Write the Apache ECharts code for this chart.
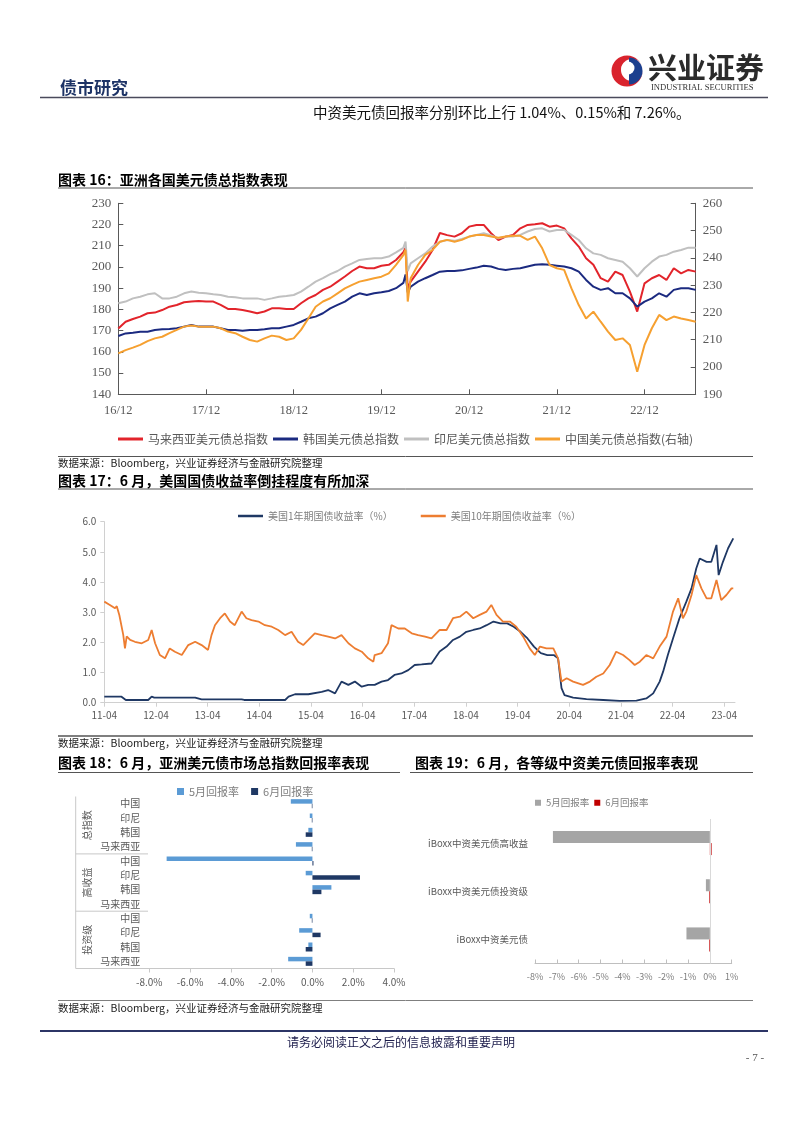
<!DOCTYPE html>
<html><head><meta charset="utf-8">
<script src="https://cdn.jsdelivr.net/npm/echarts@6/dist/echarts.min.js"></script>
<style>html,body{margin:0;padding:0;background:#fff}#c{width:802px;height:1133px}</style>
</head><body><div id="c"></div><script>
// ---------- Chart 16 data (monthly, months since 2016-12) ----------
const labels16 = ['16/12','17/12','18/12','19/12','20/12','21/12','22/12'];
const months16 = [];
for (let m = 0; m <= 38; m++) months16.push(m);
months16.push(39, 39.3, 39.6);
for (let m = 40; m <= 79; m++) months16.push(m);
const malaysia16 = [171,174.2,175.5,176.6,178.2,178.5,179.7,181.3,182.1,183.4,183.7,184,183.7,183.7,182.1,180.2,180.2,179.7,179,178.2,179,180.5,180.5,180.2,180.2,182.9,185.2,186.8,189.2,190.7,193.1,195.5,198.1,200.2,199.4,199.4,200.6,201,203.3,
  207,209,190,
  193.1,197.8,202.5,208,216,215,214.3,215.9,219,219.8,219.8,215.9,212.7,214.3,215.1,218.2,219.8,220.1,220.6,219,219.5,218.2,213.5,209.6,204.1,201,194.7,193.1,197.8,196.2,188.4,179,192.3,194.7,196.2,193.9,199.4,197,198.6,197.8];
const korea16 = [167.5,168.7,169,169.5,169.5,170.3,170.6,170.8,171.1,171.9,172.7,171.9,171.9,171.9,171.1,170.3,170.3,170,170.3,170.3,170.6,171.1,171.1,171.9,172.7,174.2,175.8,176.6,178.2,180.5,182.1,183.7,186,187.6,186.8,187.6,188.1,188.7,190,
  192.5,196.5,188,
  190.7,193.1,194.7,196.2,197.8,198.1,198.1,198.4,199.1,199.7,200.6,200.2,199.1,198.6,199.1,199.4,200.2,201,201.3,201,200.6,200.2,199.4,197.8,193.9,190.7,189.2,190,187.6,187.6,185.2,181.3,183.7,185.2,187.6,186,189.2,190,190,189.2];
const indonesia16 = [182.9,183.7,185.2,186,187.1,187.6,185.2,185.2,186,187.6,188.4,187.9,187.6,187.1,186.8,186,185.7,185.2,185.2,185.2,184.5,185.2,186,186.3,186.8,188.4,190.7,193.1,194.7,196.6,198.1,200.2,201.7,203.3,203.8,204.1,204.1,204.9,206.9,
  209,212,198,
  201.7,204.1,206.4,209.6,211.9,212.7,212.3,213.2,214.3,215.1,215.9,214.8,213.5,214.3,214.3,215.1,216.7,217.9,218.2,216.7,217.4,217.4,215.1,212.7,208.8,206.4,205.7,204.1,203.3,202.5,199.4,195.5,199.4,202.5,204.9,205.7,207.2,208,209.1,209.1];
const china16 = [205,206.2,207.1,208.1,209.5,210.5,211.1,212.4,213.6,214.8,215.2,214.8,214.8,214.8,214.2,213,212.4,211.1,209.9,209.3,210.5,211.5,211.1,209.9,210.5,213.6,217.8,222.1,224,225.2,227,228.8,230.1,231.3,231.9,232.5,233.1,234.3,237.4,
  241,243,224,
  232.5,237.4,241.1,242.9,245.9,246.6,245.9,246.6,247.8,248.4,248.4,247.8,247.4,247.8,248.1,248.1,246.6,247.8,243.5,237.4,236.2,235.6,228.8,222.7,217.8,220.3,216.6,213,209.9,210.5,208.1,198.3,208.1,214.2,219.1,217.2,218.5,217.8,217.2,216.6];
const names16 = ['马来西亚美元债总指数','韩国美元债总指数','印尼美元债总指数','中国美元债总指数(右轴)'];

// ---------- Chart 17 data (months since 2011-04) ----------
const labels17 = ['11-04','12-04','13-04','14-04','15-04','16-04','17-04','18-04','19-04','20-04','21-04','22-04','23-04'];
const tenYMonths = [0,1.2,2.5,2.9,3.5,4.4,4.8,5.2,6,7.1,8.7,10.2,11,11.8,12.9,14.1,15.2,16.4,18,19.5,21.1,22.6,24.1,24.9,25.7,26.9,28,29.2,30.3,31.9,33,34.2,35.8,37.3,38.9,40.4,42,43.5,45,46.2,47.4,48.9,50.5,52,53.6,55.1,56.7,58.2,59.8,61.3,62.5,62.8,64.4,65.9,66.7,68.3,69.8,71.4,72.9,74.5,76,77.9,79.5,81,82.6,84.1,85.7,87.2,88.8,89.9,91.1,92.6,94.2,95.7,97.3,98.8,100,101.2,102.7,104.3,105.4,106.2,107.4,108.9,111.2,112.8,114.3,115.9,117.4,118.9,120.5,122,123.2,124.4,125.9,127.5,129,130.6,132.1,133.3,134.4,135.2,136.4,137.5,138.7,139.9,141,142.2,143.3,144.5,145.7,146.1];
const tenYValues = [3.35,3.25,3.13,3.2,2.9,2.25,1.8,2.2,2.08,2.02,1.97,2.08,2.41,1.97,1.58,1.47,1.8,1.69,1.58,1.91,2.02,1.91,1.75,2.24,2.57,2.8,2.96,2.69,2.57,3.02,2.8,2.74,2.69,2.57,2.52,2.41,2.24,2.35,2.02,1.91,2.08,2.3,2.24,2.19,2.13,2.24,1.97,1.8,1.69,1.47,1.36,1.58,1.64,1.97,2.57,2.46,2.46,2.3,2.24,2.19,2.13,2.41,2.41,2.8,2.85,3.02,2.8,2.91,3.02,3.24,2.91,2.69,2.69,2.52,2.19,1.8,1.58,1.86,1.8,1.8,1.47,0.7,0.81,0.7,0.59,0.7,0.86,0.97,1.25,1.69,1.58,1.41,1.25,1.36,1.58,1.47,1.86,2.19,3.02,3.46,2.8,3.02,3.57,4.23,3.79,3.46,3.46,4.07,3.4,3.57,3.79,3.79];
const oneYMonths = [0,4,5,10.2,11,11.6,21.1,22.6,31.9,32.5,42,42.8,44.3,47.4,50.5,52,53.6,55.1,56.7,58.2,59.8,61.3,62.8,64.4,65.9,67.4,69,70.6,72.1,73.7,76,77.9,79.5,81,82.6,84.1,85.7,87.2,88.8,90.4,92,93.6,95.1,96.7,98.3,99.8,101.4,102.9,104.4,105.4,106.2,106.9,108.9,112,115.9,119.7,123.6,125.9,127.5,129,129.8,130.9,132.1,133.6,135.2,136.4,137.5,138.3,139.9,141,142.2,142.7,143.7,144.9,146.1];
const oneYValues = [0.2,0.2,0.09,0.09,0.2,0.17,0.17,0.11,0.11,0.09,0.09,0.2,0.28,0.28,0.36,0.42,0.31,0.7,0.59,0.7,0.53,0.59,0.59,0.7,0.75,0.92,0.97,1.08,1.25,1.27,1.3,1.7,1.86,2.08,2.19,2.35,2.41,2.46,2.57,2.69,2.63,2.63,2.52,2.35,2.13,1.86,1.64,1.58,1.58,1.47,0.48,0.25,0.17,0.12,0.09,0.06,0.07,0.14,0.31,0.7,1.03,1.58,2.13,2.8,3.35,3.79,4.45,4.78,4.67,4.67,5.23,4.23,4.67,5.12,5.45];
const names17 = ['美国1年期国债收益率（%）','美国10年期国债收益率（%）'];

// ---------- Chart 18 data ----------
const groups18 = ['总指数','高收益','投资级'];
const countries18 = ['中国','印尼','韩国','马来西亚'];
const may18 = [-1.06,-0.13,-0.2,-0.81, -7.15,-0.33,0.93,null, -0.13,-0.65,-0.2,-1.19];
const jun18 = [-0.03,-0.03,-0.33,-0.03, 0.05,2.33,0.44,null, -0.03,0.4,-0.33,-0.33];
const ticks18 = [-8,-6,-4,-2,0,2,4];

// ---------- Chart 19 data ----------
const cats19 = ['iBoxx中资美元债高收益','iBoxx中资美元债投资级','iBoxx中资美元债'];
const may19 = [-7.18,-0.18,-1.07];
const jun19 = [0.08,-0.03,-0.03];
const seriesNames = ['5月回报率','6月回报率'];

// ---------- helpers ----------
const CJK = "'Noto Sans CJK SC', sans-serif";
const SERIF = "'Liberation Serif', 'DejaVu Serif', serif";
const G = [];
function txt(x, y, s, size, opt) {
  opt = opt || {};
  G.push({type:'text', x:x, y:y, rotation: opt.rot || 0, silent:true, style:{
    text:s, fill: opt.color || '#000', textAlign: opt.align || 'left', textVerticalAlign:'middle',
    font: (opt.weight || 'normal') + ' ' + size + 'px ' + (opt.family || CJK)}});
}
function ln(x1, y1, x2, y2, color, w) {
  G.push({type:'line', silent:true, shape:{x1:x1,y1:y1,x2:x2,y2:y2}, style:{stroke:color, lineWidth:w}});
}

// header
txt(60, 88, '债市研究', 17, {weight:'bold', color:'#1d3366'});
G.push({type:'circle', shape:{cx:627, cy:71, r:15.5}, style:{fill:'#d9232d'}});
G.push({type:'circle', shape:{cx:632, cy:70, r:11}, style:{fill:'#ffffff'}});
G.push({type:'sector', shape:{cx:629, cy:71, r:13.5, r0:0, startAngle:-Math.PI/2, endAngle:Math.PI/2}, style:{fill:'#1c3f8e'}});
G.push({type:'circle', shape:{cx:628, cy:68, r:6.5}, style:{fill:'#ffffff'}});
txt(648, 68, '兴业证券', 29, {weight:'bold', color:'#2b2b2b'});
txt(651, 88, 'INDUSTRIAL SECURITIES', 8.6, {family:SERIF, color:'#333'});
ln(40, 97.5, 768, 97.5, '#4a4a5c', 1.5);
txt(313, 112, '中资美元债回报率分别环比上行 1.04%、0.15%和 7.26%。', 14.5, {color:'#111'});

// chart 16 frame texts
txt(58, 180, '图表 16：亚洲各国美元债总指数表现', 14, {weight:'bold'});
ln(58, 188, 753, 188, '#555', 1);
ln(58, 456.5, 753, 456.5, '#555', 1);
txt(58, 463, '数据来源：Bloomberg，兴业证券经济与金融研究院整理', 10.5, {color:'#222'});

// chart 17
txt(58, 481, '图表 17：6 月，美国国债收益率倒挂程度有所加深', 14, {weight:'bold'});
ln(58, 489, 753, 489, '#555', 1);
ln(58, 736, 753, 736, '#7f7f7f', 2);
txt(58, 743.5, '数据来源：Bloomberg，兴业证券经济与金融研究院整理', 10.5, {color:'#222'});

// chart 18 / 19 titles
txt(58, 763, '图表 18：6 月，亚洲美元债市场总指数回报率表现', 14, {weight:'bold'});
txt(415, 763, '图表 19：6 月，各等级中资美元债回报率表现', 14, {weight:'bold'});
ln(58, 772.5, 400, 772.5, '#555', 1);
ln(410, 772.5, 753, 772.5, '#555', 1);
ln(58, 1000.5, 753, 1000.5, '#7f7f7f', 1);
txt(58, 1008.5, '数据来源：Bloomberg，兴业证券经济与金融研究院整理', 10.5, {color:'#222'});

// chart 18 multi-level category decorations
ln(75.7, 796.5, 75.7, 968.5, '#c8c8c8', 1);
ln(75.7, 853.9, 148, 853.9, '#c8c8c8', 1);
ln(75.7, 911.2, 148, 911.2, '#c8c8c8', 1);
ln(75.7, 968.5, 149.3, 968.5, '#c8c8c8', 1);
groups18.forEach(function (gname, i) {
  txt(87, 796.5 + (i * 4 + 2) * 14.33, gname, 10, {color:'#595959', align:'center', rot: Math.PI / 2});
});

// footer
ln(40, 1031, 768, 1031, '#2c3566', 2);
txt(401, 1042, '请务必阅读正文之后的信息披露和重要声明', 12, {color:'#1b1b4a', align:'center'});
txt(755, 1058, '- 7 -', 11, {color:'#555', align:'center', family:SERIF});

// category keys for chart 18
const cats18 = [];
groups18.forEach(function (g) { countries18.forEach(function (c) { cats18.push(g + '|' + c); }); });

const pairs = (xs, ys) => xs.map((x, i) => [x, ys[i]]);
const ticksAt12 = n => Array.from({length:n}, (_, i) => i * 12);

const chart = echarts.init(document.getElementById('c'));
chart.setOption({
  backgroundColor:'#ffffff',
  animation:false,
  graphic: G,
  grid: [
    {left:118.3, top:203.3, width:577.4, height:191, containLabel:false},
    {left:104.3, top:521.7, width:630.7, height:181, containLabel:false},
    {left:149.3, top:796.5, width:244.7, height:172, containLabel:false},
    {left:535, top:819, width:196.7, height:144.5, containLabel:false}
  ],
  legend: [
    {data:names16, left:113, top:428, icon:'rect', itemWidth:25, itemHeight:3, itemGap:5,
     textStyle:{fontFamily:CJK, fontSize:12, color:'#595959'}},
    {data:names17, left:233, top:506, icon:'rect', itemWidth:25, itemHeight:2.5, itemGap:28,
     textStyle:{fontFamily:CJK, fontSize:10, color:'#7f7f7f'}},
    {data:[{name:seriesNames[0], itemStyle:{color:'#5b9bd5'}},{name:seriesNames[1], itemStyle:{color:'#1f3864'}}],
     left:172, top:781, icon:'rect', itemWidth:7, itemHeight:7, itemGap:12,
     textStyle:{fontFamily:CJK, fontSize:11, color:'#7f7f7f'}},
    {data:[{name:seriesNames[0], itemStyle:{color:'#a5a5a5'}},{name:seriesNames[1], itemStyle:{color:'#c00000'}}],
     left:530, top:793, icon:'rect', itemWidth:6, itemHeight:6, itemGap:5,
     textStyle:{fontFamily:CJK, fontSize:9.5, color:'#7f7f7f'}}
  ],
  xAxis: [
    {gridIndex:0, type:'value', min:0, max:79, interval:12,
     axisLine:{show:true, lineStyle:{color:'#595959', width:1}},
     axisTick:{show:true, inside:true, length:5, customValues:ticksAt12(labels16.length), lineStyle:{color:'#595959'}},
     axisLabel:{customValues:ticksAt12(labels16.length), formatter:v => labels16[Math.round(v / 12)] || '',
       fontFamily:SERIF, fontSize:12.5, color:'#595959', margin:10},
     splitLine:{show:false}},
    {gridIndex:1, type:'value', min:0, max:146.5, interval:12,
     axisLine:{show:true, lineStyle:{color:'#d0d0d0', width:1}},
     axisTick:{show:true, length:4, customValues:ticksAt12(labels17.length), lineStyle:{color:'#d0d0d0'}},
     axisLabel:{customValues:ticksAt12(labels17.length), formatter:v => labels17[Math.round(v / 12)] || '',
       fontFamily:CJK, fontSize:10, color:'#595959', margin:8},
     splitLine:{show:false}},
    {gridIndex:2, type:'value', min:-8, max:4, interval:2,
     axisLine:{show:true, onZero:false, lineStyle:{color:'#c8c8c8'}},
     axisTick:{show:true, length:4, lineStyle:{color:'#c8c8c8'}},
     axisLabel:{customValues:ticks18, formatter:v => v.toFixed(1) + '%', fontFamily:CJK, fontSize:10, color:'#595959', margin:9},
     splitLine:{show:false}},
    {gridIndex:3, type:'value', min:-8, max:1, interval:1,
     axisLine:{show:true, onZero:false, lineStyle:{color:'#bfbfbf'}},
     axisTick:{show:true, inside:true, length:4, lineStyle:{color:'#bfbfbf'}},
     axisLabel:{formatter:v => v + '%', fontFamily:CJK, fontSize:9, color:'#7f7f7f', margin:9},
     splitLine:{show:false}}
  ],
  yAxis: [
    {gridIndex:0, type:'value', min:140, max:230, interval:10, position:'left',
     axisLine:{show:true, lineStyle:{color:'#595959'}},
     axisTick:{show:true, inside:true, length:5, lineStyle:{color:'#595959'}},
     axisLabel:{fontFamily:SERIF, fontSize:13, color:'#595959', margin:7},
     splitLine:{show:false}},
    {gridIndex:0, type:'value', min:190, max:260, interval:10, position:'right',
     axisLine:{show:true, lineStyle:{color:'#595959'}},
     axisTick:{show:true, inside:true, length:5, lineStyle:{color:'#595959'}},
     axisLabel:{fontFamily:SERIF, fontSize:13, color:'#595959', margin:7},
     splitLine:{show:false}},
    {gridIndex:1, type:'value', min:0, max:6, interval:1,
     axisLine:{show:true, lineStyle:{color:'#d0d0d0'}},
     axisTick:{show:true, length:4, lineStyle:{color:'#d0d0d0'}},
     axisLabel:{formatter:v => v.toFixed(1), fontFamily:CJK, fontSize:10, color:'#595959', margin:8},
     splitLine:{show:false}},
    {gridIndex:2, type:'category', inverse:true, data:cats18,
     axisLine:{show:false, onZero:false}, axisTick:{show:false},
     axisLabel:{formatter:v => v.split('|')[1], fontFamily:CJK, fontSize:10, color:'#595959', margin:9}},
    {gridIndex:3, type:'category', inverse:true, data:cats19,
     axisLine:{show:false, onZero:false}, axisTick:{show:false},
     axisLabel:{fontFamily:CJK, fontSize:9.5, color:'#595959', margin:7}}
  ],
  series: [
    {name:names16[0], type:'line', xAxisIndex:0, yAxisIndex:0, data:pairs(months16, malaysia16), showSymbol:false, lineStyle:{color:'#e2242b', width:2}, itemStyle:{color:'#e2242b'}},
    {name:names16[1], type:'line', xAxisIndex:0, yAxisIndex:0, data:pairs(months16, korea16), showSymbol:false, lineStyle:{color:'#1b2a80', width:2}, itemStyle:{color:'#1b2a80'}},
    {name:names16[2], type:'line', xAxisIndex:0, yAxisIndex:0, data:pairs(months16, indonesia16), showSymbol:false, lineStyle:{color:'#c0c0c0', width:2}, itemStyle:{color:'#c0c0c0'}},
    {name:names16[3], type:'line', xAxisIndex:0, yAxisIndex:1, data:pairs(months16, china16), showSymbol:false, lineStyle:{color:'#f6a030', width:2}, itemStyle:{color:'#f6a030'}},
    {name:names17[0], type:'line', xAxisIndex:1, yAxisIndex:2, data:pairs(oneYMonths, oneYValues), showSymbol:false, lineStyle:{color:'#1f3864', width:1.8}, itemStyle:{color:'#1f3864'}},
    {name:names17[1], type:'line', xAxisIndex:1, yAxisIndex:2, data:pairs(tenYMonths, tenYValues), showSymbol:false, lineStyle:{color:'#ed7d31', width:1.8}, itemStyle:{color:'#ed7d31'}},
    {name:seriesNames[0], type:'bar', xAxisIndex:2, yAxisIndex:3, data:may18, barWidth:4.5, barGap:'0%', itemStyle:{color:'#5b9bd5'}},
    {name:seriesNames[1], type:'bar', xAxisIndex:2, yAxisIndex:3, data:jun18, barWidth:4.5, barGap:'0%', itemStyle:{color:'#1f3864'}},
    {name:seriesNames[0], type:'bar', xAxisIndex:3, yAxisIndex:4, data:may19, barWidth:12, barGap:'0%', itemStyle:{color:'#a5a5a5'},
     markLine:{silent:true, symbol:'none', label:{show:false}, lineStyle:{color:'#d9d9d9', type:'solid', width:1}, data:[{xAxis:0}]}},
    {name:seriesNames[1], type:'bar', xAxisIndex:3, yAxisIndex:4, data:jun19, barWidth:12, barGap:'0%', itemStyle:{color:'#c00000'}}
  ]
});
</script></body></html>
